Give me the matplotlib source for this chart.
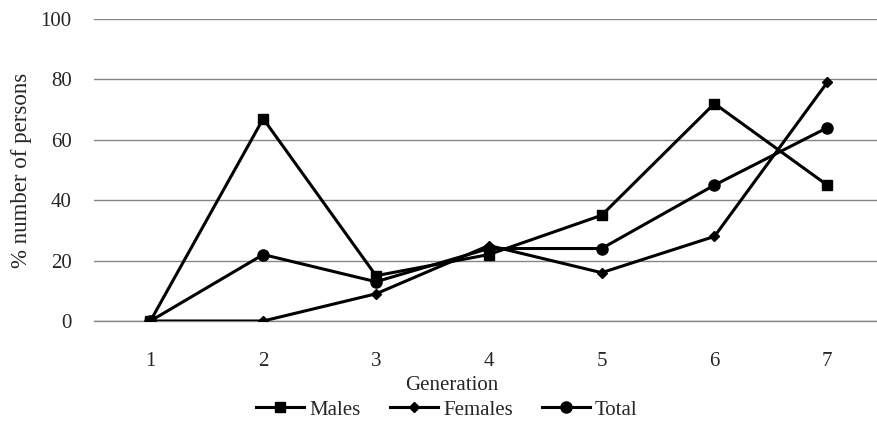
import matplotlib.pyplot as plt

# data
generations = [1, 2, 3, 4, 5, 6, 7]
males = [0, 67, 15, 22, 35, 72, 45]
females = [0, 0, 9, 25, 16, 28, 79]
total = [0, 22, 13, 24, 24, 45, 64]
y_ticks = [0, 20, 40, 60, 80, 100]

plt.rcParams['font.family'] = ['Liberation Serif', 'DejaVu Serif']
txt = '#262626'
fs = 15

fig = plt.figure(figsize=(8.78, 4.29), dpi=100)
ax = fig.add_axes([94 / 878, 1 - 321 / 429, (878 - 94) / 878, 302 / 429])

ax.plot(generations, males, color='black', lw=2.2, marker='s', ms=7.5, label='Males', zorder=3)
ax.plot(generations, females, color='black', lw=2.2, marker='D', ms=5, label='Females', zorder=3)
ax.plot(generations, total, color='black', lw=2.2, marker='o', ms=8, label='Total', zorder=3)

ax.set_xlim(0.5, 7.45)
ax.set_ylim(0, 100)
ax.set_yticks(y_ticks)
ax.set_xticks(generations)
ax.yaxis.grid(True, color='#868686', lw=1)
ax.axhline(0, color='#868686', lw=1, clip_on=False, zorder=1)
ax.set_axisbelow(True)
for s in ax.spines.values():
    s.set_visible(False)
ax.tick_params(length=0, labelsize=fs, colors=txt)
ax.tick_params(axis='x', pad=22)
ax.tick_params(axis='y', pad=16)

ax.set_xlabel('Generation', fontsize=fs, color=txt)
ax.xaxis.set_label_coords((452 - 94) / 784, -0.182)
ax.set_ylabel('% number of persons', fontsize=16.5, color=txt, labelpad=6)

fig.legend(loc='center', bbox_to_anchor=(447 / 878, 1 - 410 / 429), ncol=3, frameon=False,
           fontsize=fs, handlelength=2.3, handletextpad=0.25, columnspacing=1.4,
           labelcolor=txt)

fig.savefig('out.png', dpi=100)
